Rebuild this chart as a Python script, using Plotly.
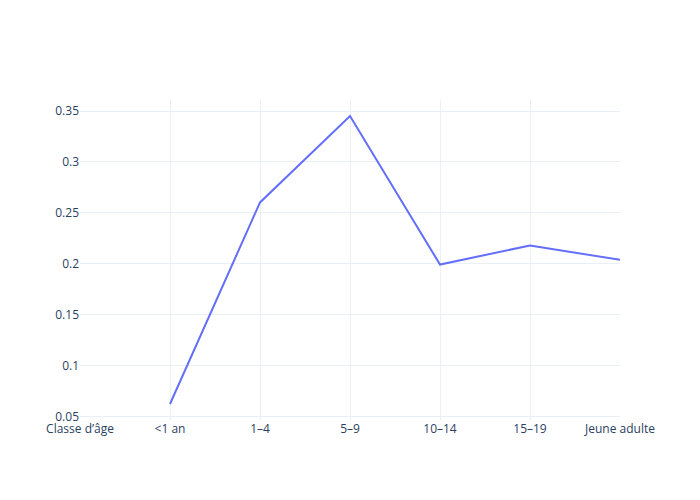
import plotly.graph_objects as go

categories = ["Classe d’âge", "<1 an", "1–4", "5–9", "10–14", "15–19", "Jeune adulte"]
values = [None, 0.0626, 0.2603, 0.3451, 0.1994, 0.2181, 0.2040]

fig = go.Figure()
fig.add_trace(go.Scatter(x=categories, y=values, mode="lines"))
fig.update_layout(template="plotly_white", width=700, height=500)
fig.write_html(
    "out.html",
    config={"displayModeBar": False},
    post_script="document.body.style.margin='0';",
)
